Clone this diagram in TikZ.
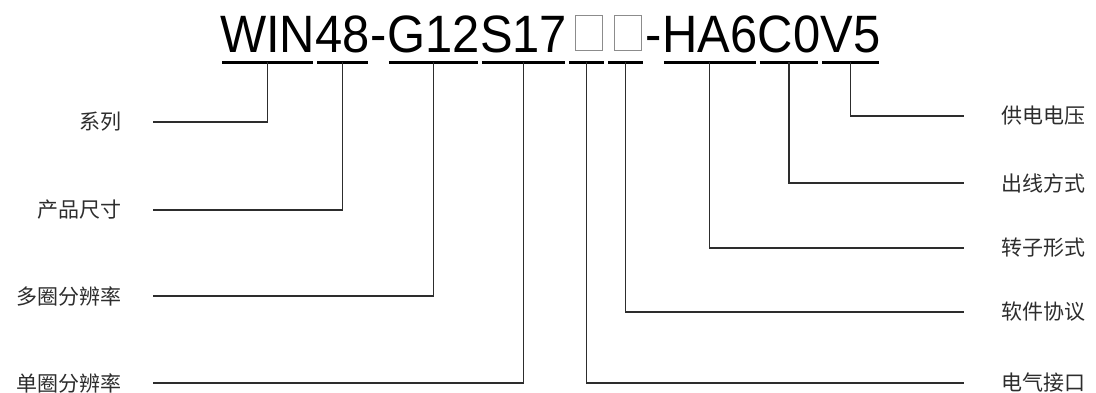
\documentclass[tikz,border=0pt]{standalone}
\usepackage{fontspec}
\usepackage{xcolor}
\usepackage{tikz}
\usetikzlibrary{positioning}
\newfontfamily\codefont[FakeStretch=0.93]{Liberation Sans}
\newfontfamily\cjk{Noto Sans CJK SC}
\definecolor{linkgray}{RGB}{45,45,45}
\definecolor{slotgray}{RGB}{140,140,140}

\begin{document}
\begin{tikzpicture}[
    x=1pt, y=-1pt,
    seg/.style={inner sep=0pt, text height=37.7pt, text depth=10pt, font=\codefont\fontsize{52.6}{52.6}\selectfont},
    slot/.style={seg, minimum width=38.6pt},
    bar/.style={line width=3.4pt, shorten <=2pt, shorten >=2pt},
    link/.style={draw=linkgray, line width=1.2pt},
    lbl/.style={inner ysep=0pt, font=\cjk\fontsize{21}{21}\selectfont, text=linkgray},
    leftlbl/.style={lbl, anchor=east, inner xsep=31pt},
    rightlbl/.style={lbl, anchor=west, inner xsep=37pt}
]
\useasboundingbox (0,0) rectangle (1096,392);

\node[seg, anchor=base west] (win) at (220,52) {WIN};
\node[seg, right=0pt of win] (n48) {48};
\node[seg, right=0pt of n48] (dashA) {-};
\node[seg, right=0pt of dashA] (g12) {G12};
\node[seg, right=0pt of g12] (s17) {S17};
\node[slot, right=0pt of s17] (slotA) {};
\node[slot, right=0pt of slotA] (slotB) {};
\node[seg, right=0pt of slotB] (dashB) {-};
\node[seg, right=0pt of dashB] (ha6) {HA6};
\node[seg, right=0pt of ha6] (c0) {C0};
\node[seg, right=0pt of c0] (v5) {V5};

\foreach \s in {slotA, slotB}
    \draw[slotgray, line width=1pt] ([xshift=8pt, yshift=2pt]\s.base west) rectangle ([xshift=-3.5pt, yshift=37pt]\s.base east);

\foreach \s in {win, n48, g12, s17, slotA, slotB, ha6, c0, v5}
    \draw[bar] (\s.south west) -- (\s.south east);

\node[leftlbl] (xilie) at (153,122) {系列};
\node[leftlbl] (chicun) at (153,210) {产品尺寸};
\node[leftlbl] (duoquan) at (153,296) {多圈分辨率};
\node[leftlbl] (danquan) at (153,383) {单圈分辨率};

\node[rightlbl] (gongdian) at (964,116) {供电电压};
\node[rightlbl] (chuxian) at (964,183) {出线方式};
\node[rightlbl] (zhuanzi) at (964,248) {转子形式};
\node[rightlbl] (ruanjian) at (964,312) {软件协议};
\node[rightlbl] (dianqi) at (964,383) {电气接口};

\draw[link] (win.south) |- (xilie.east);
\draw[link] (n48.south) |- (chicun.east);
\draw[link] (g12.south) |- (duoquan.east);
\draw[link] (s17.south) |- (danquan.east);
\draw[link] (slotA.south) |- (dianqi.west);
\draw[link] (slotB.south) |- (ruanjian.west);
\draw[link] (ha6.south) |- (zhuanzi.west);
\draw[link] (c0.south) |- (chuxian.west);
\draw[link] (v5.south) |- (gongdian.west);

\end{tikzpicture}
\end{document}
